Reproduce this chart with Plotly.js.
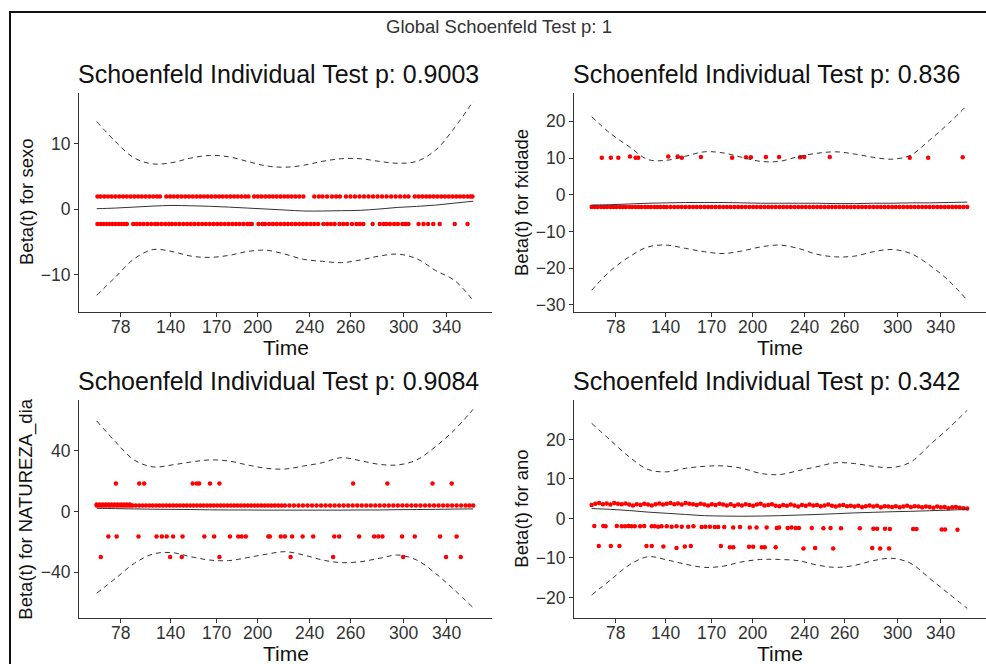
<!DOCTYPE html>
<html>
<head>
<meta charset="utf-8">
<script src="https://cdn.plot.ly/plotly-3.0.1.min.js"></script>
<style>
html,body{margin:0;padding:0;background:#fff;}
#chart{width:986px;height:664px;}
</style>
</head>
<body>
<div id="chart"></div>
<script>
// ---- Data (x in transformed time units; tick labels are the original times) ----
const tickVals = [0.064,0.196,0.319,0.428,0.566,0.673,0.815,0.929];
const tickText = ['78','140','170','200','240','260','300','340'];
const tGrid = [0,0.05,0.1,0.15,0.2,0.25,0.3,0.35,0.4,0.45,0.5,0.55,0.6,0.65,0.7,0.75,0.8,0.85,0.9,0.95,1];

const globalTitle = 'Global Schoenfeld Test p: 1';
const panelTitles = ['Schoenfeld Individual Test p: 0.9003','Schoenfeld Individual Test p: 0.836','Schoenfeld Individual Test p: 0.9084','Schoenfeld Individual Test p: 0.342'];
const yTitles = ['Beta(t) for sexo','Beta(t) for fxidade','Beta(t) for NATUREZA_dia','Beta(t) for ano'];

// Panel 1: sexo
const sexoUpperRowY = 1.9;
const sexoUpperRowX = [0.002,0.010,0.020,0.030,0.040,0.050,0.060,0.070,0.080,0.090,0.100,0.110,0.120,0.130,0.140,0.150,0.160,0.168,0.185,0.195,0.205,0.215,0.225,0.235,0.245,0.255,0.265,0.275,0.285,0.295,0.305,0.315,0.325,0.335,0.345,0.355,0.365,0.375,0.385,0.395,0.403,0.418,0.428,0.438,0.448,0.458,0.468,0.478,0.488,0.498,0.508,0.518,0.528,0.538,0.549,0.578,0.590,0.600,0.612,0.625,0.636,0.646,0.662,0.674,0.686,0.698,0.710,0.722,0.734,0.746,0.758,0.770,0.782,0.794,0.806,0.818,0.828,0.845,0.855,0.865,0.875,0.885,0.895,0.905,0.915,0.925,0.935,0.945,0.955,0.965,0.975,0.985,0.993,0.998];
const sexoLowerRowY = -2.3;
const sexoLowerRowX = [0.002,0.010,0.018,0.026,0.034,0.042,0.050,0.058,0.066,0.074,0.080,0.097,0.106,0.115,0.125,0.135,0.145,0.155,0.162,0.172,0.182,0.192,0.200,0.210,0.220,0.230,0.240,0.250,0.260,0.270,0.280,0.290,0.300,0.310,0.320,0.330,0.340,0.350,0.360,0.370,0.380,0.390,0.400,0.407,0.412,0.430,0.440,0.447,0.458,0.468,0.478,0.488,0.498,0.508,0.518,0.528,0.538,0.548,0.558,0.568,0.578,0.588,0.602,0.612,0.622,0.632,0.645,0.655,0.665,0.678,0.690,0.699,0.708,0.733,0.752,0.762,0.770,0.779,0.790,0.800,0.812,0.820,0.828,0.855,0.868,0.880,0.894,0.911,0.951,0.985];
const sexoFit = [0.05,0.15,0.3,0.45,0.55,0.5,0.42,0.3,0.15,0.0,-0.15,-0.3,-0.3,-0.25,-0.2,0.0,0.25,0.4,0.6,0.9,1.2];
const sexoUpper = [13.4,10.3,7.8,6.9,7.1,7.8,8.2,8.0,7.3,6.6,6.4,6.7,7.3,7.7,7.7,7.3,7.0,7.3,9.0,12.4,16.5];
const sexoLower = [-13.2,-10.4,-7.6,-6.2,-6.5,-7.2,-7.4,-7.1,-6.5,-6.3,-6.9,-7.7,-8.0,-8.2,-7.8,-7.2,-6.9,-7.6,-9.4,-10.9,-14.0];

// Panel 2: fxidade
const fxMainY = -3.3;
const fxMainX = [0.000,0.008,0.016,0.025,0.033,0.041,0.050,0.058,0.066,0.075,0.083,0.091,0.100,0.108,0.117,0.125,0.133,0.142,0.150,0.158,0.167,0.175,0.183,0.192,0.200,0.210,0.220,0.230,0.240,0.250,0.260,0.270,0.280,0.290,0.300,0.310,0.320,0.330,0.340,0.350,0.360,0.370,0.380,0.390,0.400,0.410,0.420,0.430,0.440,0.450,0.460,0.470,0.480,0.490,0.500,0.510,0.520,0.530,0.540,0.550,0.560,0.570,0.580,0.590,0.600,0.610,0.620,0.630,0.640,0.650,0.660,0.670,0.680,0.690,0.700,0.710,0.720,0.730,0.740,0.750,0.760,0.770,0.780,0.790,0.800,0.810,0.820,0.830,0.840,0.850,0.860,0.870,0.880,0.890,0.900,0.910,0.920,0.930,0.940,0.950,0.960,0.970,0.980,0.990,1.000];
const fxHighX = [0.027,0.051,0.071,0.102,0.117,0.124,0.204,0.229,0.240,0.291,0.374,0.411,0.424,0.464,0.499,0.555,0.566,0.634,0.847,0.896,0.988];
const fxHighY = [10.1,10.1,10.1,10.4,10.1,10.1,10.4,10.4,10.1,10.3,10.1,10.2,10.2,10.3,10.3,10.2,10.3,10.3,10.1,10.1,10.2];
const fxFit = [-2.8,-2.7,-2.5,-2.3,-2.2,-2.1,-2.1,-2.1,-2.2,-2.3,-2.3,-2.3,-2.3,-2.4,-2.4,-2.3,-2.3,-2.2,-2.2,-2.1,-2.0];
const fxUpper = [21.3,16.7,13.1,9.6,9.4,10.5,11.7,11.4,10.2,9.1,9.1,10.4,11.3,11.7,11.1,10.2,9.7,10.8,14.9,19.4,24.4];
const fxLower = [-26.0,-20.7,-16.9,-14.2,-13.7,-14.6,-15.5,-16.0,-15.3,-14.2,-13.7,-14.6,-16.2,-16.9,-16.7,-15.5,-14.9,-16.0,-19.2,-23.3,-28.7];

// Panel 3: NATUREZA_dia
const natMainY = 4.0;
const natMainX = [0.000,0.006,0.012,0.018,0.024,0.030,0.036,0.042,0.048,0.054,0.060,0.066,0.072,0.078,0.084,0.090,0.096,0.104,0.113,0.122,0.131,0.140,0.149,0.158,0.167,0.176,0.185,0.194,0.203,0.212,0.221,0.230,0.239,0.248,0.257,0.266,0.275,0.284,0.293,0.302,0.311,0.320,0.329,0.338,0.347,0.356,0.365,0.374,0.383,0.392,0.401,0.410,0.419,0.428,0.437,0.446,0.455,0.464,0.473,0.482,0.491,0.500,0.512,0.524,0.536,0.548,0.560,0.572,0.584,0.596,0.608,0.620,0.632,0.644,0.656,0.668,0.680,0.692,0.704,0.716,0.728,0.740,0.752,0.764,0.776,0.788,0.800,0.812,0.824,0.836,0.848,0.860,0.872,0.884,0.896,0.908,0.920,0.932,0.944,0.956,0.968,0.980,0.990,1.000];
const natTopY = 4.7;
const natTopX = [0.000,0.008,0.016,0.024,0.032,0.040,0.048,0.056,0.064,0.072,0.080,0.088];
const nat18Y = 18.5;
const nat18X = [0.051,0.113,0.126,0.255,0.266,0.272,0.301,0.326,0.681,0.772,0.892,0.943];
const natM16Y = -16.3;
const natM16X = [0.031,0.053,0.111,0.159,0.173,0.186,0.203,0.228,0.286,0.312,0.354,0.376,0.385,0.396,0.456,0.460,0.489,0.500,0.519,0.547,0.575,0.631,0.644,0.697,0.737,0.748,0.759,0.811,0.845,0.912,0.956];
const natM30Y = -29.9;
const natM30X = [0.011,0.195,0.226,0.326,0.515,0.628,0.814,0.928,0.967];
const natFit = [2.2,2.0,1.8,1.6,1.5,1.4,1.2,1.1,1.1,1.0,1.0,1.0,1.0,1.0,1.1,1.1,1.3,1.4,1.5,1.7,1.8];
const natUpper = [59.8,46.0,34.0,29.5,30.8,32.7,34.1,33.4,30.8,28.6,28.1,30.1,32.3,35.6,33.6,31.2,30.8,34.1,42.9,53.8,67.5];
const natLower = [-53.8,-44.0,-34.1,-27.9,-27.0,-29.7,-31.9,-32.3,-30.3,-28.1,-26.4,-28.6,-31.9,-33.6,-33.0,-30.8,-28.6,-31.9,-40.7,-51.6,-63.3];

// Panel 4: ano
const anoMainX = [0.00,0.01,0.02,0.03,0.04,0.05,0.06,0.07,0.08,0.09,0.10,0.11,0.12,0.13,0.14,0.15,0.16,0.17,0.18,0.19,0.20,0.21,0.22,0.23,0.24,0.25,0.26,0.27,0.28,0.29,0.30,0.31,0.32,0.33,0.34,0.35,0.36,0.37,0.38,0.39,0.40,0.41,0.42,0.43,0.44,0.45,0.46,0.47,0.48,0.49,0.50,0.51,0.52,0.53,0.54,0.55,0.56,0.57,0.58,0.59,0.60,0.61,0.62,0.63,0.64,0.65,0.66,0.67,0.68,0.69,0.70,0.71,0.72,0.73,0.74,0.75,0.76,0.77,0.78,0.79,0.80,0.81,0.82,0.83,0.84,0.85,0.86,0.87,0.88,0.89,0.90,0.91,0.92,0.93,0.94,0.95,0.96,0.97,0.98,0.99,1.00];
const anoMainY = [3.4,3.7,3.9,3.6,3.8,3.5,3.9,3.7,3.6,3.8,
                  3.5,3.3,3.6,3.4,3.7,3.5,3.3,3.6,3.8,3.5,
                  3.7,3.9,3.6,3.8,3.5,3.9,3.7,3.6,3.4,3.7,
                  3.5,3.3,3.6,3.4,3.7,3.5,3.3,3.6,3.2,3.5,
                  3.3,3.6,3.4,3.2,3.5,3.7,3.3,3.4,3.6,3.2,
                  3.1,3.4,3.2,3.5,3.3,3.0,3.4,3.2,3.5,3.3,
                  3.4,3.1,3.3,3.5,3.2,3.0,3.3,3.4,3.1,3.2,
                  3.0,3.2,2.9,3.1,3.3,3.0,3.2,2.8,3.1,3.0,
                  2.9,3.1,2.8,3.0,3.2,2.9,3.1,3.0,2.8,3.0,
                  2.9,2.7,3.0,2.8,2.9,2.6,2.8,2.9,2.7,2.6,2.5];
const anoM2X = [0.007,0.031,0.037,0.067,0.080,0.089,0.098,0.106,0.115,0.129,0.140,0.160,0.168,0.177,0.186,0.200,0.213,0.226,0.240,0.257,0.271,0.293,0.303,0.315,0.328,0.337,0.353,0.377,0.395,0.421,0.439,0.466,0.493,0.499,0.522,0.532,0.543,0.552,0.586,0.617,0.636,0.664,0.714,0.750,0.760,0.781,0.794,0.856,0.865,0.932,0.941,0.974];
const anoM2Y = [-1.9,-1.9,-2.0,-1.9,-2.0,-2.0,-1.9,-2.0,-2.0,-2.0,-1.9,-2.0,-2.0,-2.1,-2.0,-2.0,-2.1,-2.0,-2.1,-2.1,-2.0,-2.2,-2.1,-2.1,-2.2,-2.2,-2.2,-2.3,-2.2,-2.3,-2.3,-2.3,-2.4,-2.3,-2.4,-2.3,-2.4,-2.4,-2.4,-2.5,-2.4,-2.5,-2.5,-2.6,-2.6,-2.6,-2.7,-2.7,-2.7,-2.8,-2.8,-2.9];
const anoM7X = [0.019,0.051,0.074,0.146,0.160,0.191,0.226,0.248,0.264,0.344,0.368,0.377,0.419,0.430,0.453,0.461,0.490,0.564,0.595,0.643,0.747,0.768,0.792];
const anoM7Y = [-7.0,-7.0,-7.0,-7.0,-7.0,-7.1,-7.5,-7.1,-7.0,-7.0,-7.3,-7.3,-7.2,-7.2,-7.3,-7.3,-7.3,-7.6,-7.5,-7.6,-7.5,-7.6,-7.6];
const anoFit = [2.5,2.3,2.0,1.6,1.3,1.0,0.7,0.6,0.55,0.6,0.7,0.85,1.0,1.2,1.4,1.55,1.7,1.8,1.95,2.1,2.3];
const anoUpper = [24.1,19.8,15.6,12.4,11.8,12.7,13.2,13.3,12.7,11.4,11.1,12.1,13.1,14.1,13.9,13.2,12.9,14.3,18.6,22.8,27.4];
const anoLower = [-19.4,-15.6,-11.8,-9.7,-10.5,-11.6,-12.4,-12.1,-11.0,-10.4,-10.4,-10.7,-11.8,-12.4,-11.9,-10.7,-10.1,-11.4,-15.2,-19.0,-22.8];

const yRanges = [[-15.8,17.8],[-32.0,27.8],[-70.3,73.6],[-25.3,30.0]];
const yTicks = [[-10,0,10],[-30,-20,-10,0,10,20],[-40,0,40],[-20,-10,0,10,20]];

// ---- Build ----
const W = 986, H = 664;
const FONT = 'Liberation Sans, Arial, sans-serif';
const red = '#FF0000';
const lineCol = '#333333';

function pts(xs, ys, k) {
  const yy = Array.isArray(ys) ? ys : xs.map(() => ys);
  return {type:'scatter', mode:'markers', x:xs, y:yy, xaxis:'x'+(k===1?'':k), yaxis:'y'+(k===1?'':k),
    marker:{color:red, size:4.5, line:{width:0}}, hoverinfo:'skip', showlegend:false, cliponaxis:false};
}
function curve(ys, k, dashed) {
  return {type:'scatter', mode:'lines', x:tGrid, y:ys, xaxis:'x'+(k===1?'':k), yaxis:'y'+(k===1?'':k),
    line:{color:lineCol, width:1, shape:'spline', smoothing:1, dash: dashed ? '5px,4px' : 'solid'},
    hoverinfo:'skip', showlegend:false};
}

const traces = [
  pts(sexoUpperRowX, sexoUpperRowY, 1), pts(sexoLowerRowX, sexoLowerRowY, 1),
  curve(sexoFit,1,false), curve(sexoUpper,1,true), curve(sexoLower,1,true),
  pts(fxMainX, fxMainY, 2), pts(fxHighX, fxHighY, 2),
  curve(fxFit,2,false), curve(fxUpper,2,true), curve(fxLower,2,true),
  pts(natMainX, natMainY, 3), pts(natTopX, natTopY, 3), pts(nat18X, nat18Y, 3), pts(natM16X, natM16Y, 3), pts(natM30X, natM30Y, 3),
  curve(natFit,3,false), curve(natUpper,3,true), curve(natLower,3,true),
  pts(anoMainX, anoMainY, 4), pts(anoM2X, anoM2Y, 4), pts(anoM7X, anoM7Y, 4),
  curve(anoFit,4,false), curve(anoUpper,4,true), curve(anoLower,4,true)
];

// panel pixel boxes [left, right, top, bottom]
const boxes = [[79,492,92.7,312.3],[574,986,92.7,312.3],[79,492,400,618.3],[574,986,400,618.3]];
const px = v => v / W;
const py = v => 1 - v / H;

const layout = {
  width: W, height: H,
  margin:{l:0,r:0,t:0,b:0,pad:0},
  paper_bgcolor:'#fff', plot_bgcolor:'#fff',
  font:{family:FONT, color:'#333'},
  showlegend:false,
  annotations:[], shapes:[]
};

boxes.forEach((b, i) => {
  const k = i + 1;
  const sfx = (k===1?'':String(k));
  const xa = {
    domain:[px(b[0]), px(b[1])], range:[-0.047,1.050], anchor:'y'+sfx,
    showline:true, linecolor:lineCol, linewidth:1, mirror:false,
    ticks:'outside', ticklen:4, tickwidth:1, tickcolor:lineCol,
    tickvals:tickVals, ticktext:tickText, showticklabels:false,
    showgrid:false, zeroline:false, fixedrange:true
  };
  const ya = {
    domain:[py(b[3]), py(b[2])], range:yRanges[i], anchor:'x'+sfx,
    showline:true, linecolor:lineCol, linewidth:1, mirror:false,
    ticks:'outside', ticklen:4, tickwidth:1, tickcolor:lineCol,
    tickvals:yTicks[i], tickfont:{family:FONT, size:17.5, color:'#333'},
    showgrid:false, zeroline:false, fixedrange:true
  };
  layout['xaxis'+sfx] = xa;
  layout['yaxis'+sfx] = ya;

  // x tick labels placed on the axis scale
  tickVals.forEach((tv, j) => {
    layout.annotations.push({
      text:tickText[j], xref:'x'+sfx, yref:'paper', x:tv, y:py(b[3] + 14.5),
      xanchor:'center', yanchor:'middle', showarrow:false,
      font:{family:FONT, size:17.5, color:'#333'}
    });
  });

  // panel title (left-aligned to the panel)
  layout.annotations.push({
    text:panelTitles[i], xref:'paper', yref:'paper', x:px(b[0] - 3), y:py(b[2] - 19),
    xanchor:'left', yanchor:'middle', showarrow:false,
    font:{family:FONT, size:25, color:'#111'}
  });
  // x axis title
  layout.annotations.push({
    text:'Time', xref:'paper', yref:'paper', x:px((b[0]+b[1])/2), y:py(b[3] + 35),
    xanchor:'center', yanchor:'middle', showarrow:false,
    font:{family:FONT, size:21, color:'#111'}
  });
  // y axis title
  layout.annotations.push({
    text:yTitles[i], xref:'paper', yref:'paper', x:px(b[0] - 52.5), y:py((b[2]+b[3])/2),
    xanchor:'center', yanchor:'middle', textangle:-90, showarrow:false,
    font:{family:FONT, size:18.5, color:'#111'}
  });
});

layout.annotations.push({
  text:globalTitle, xref:'paper', yref:'paper', x:px(499), y:py(26),
  xanchor:'center', yanchor:'middle', showarrow:false,
  font:{family:FONT, size:18.5, color:'#333'}
});

// outer frame (left and top edges)
layout.shapes.push({type:'line', xref:'paper', yref:'paper', x0:px(10), x1:px(10), y0:py(12), y1:py(664), line:{color:'#111', width:2}});
layout.shapes.push({type:'line', xref:'paper', yref:'paper', x0:px(9), x1:px(986), y0:py(12), y1:py(12), line:{color:'#111', width:2}});

Plotly.newPlot('chart', traces, layout, {staticPlot:true, displayModeBar:false});
</script>
</body>
</html>
